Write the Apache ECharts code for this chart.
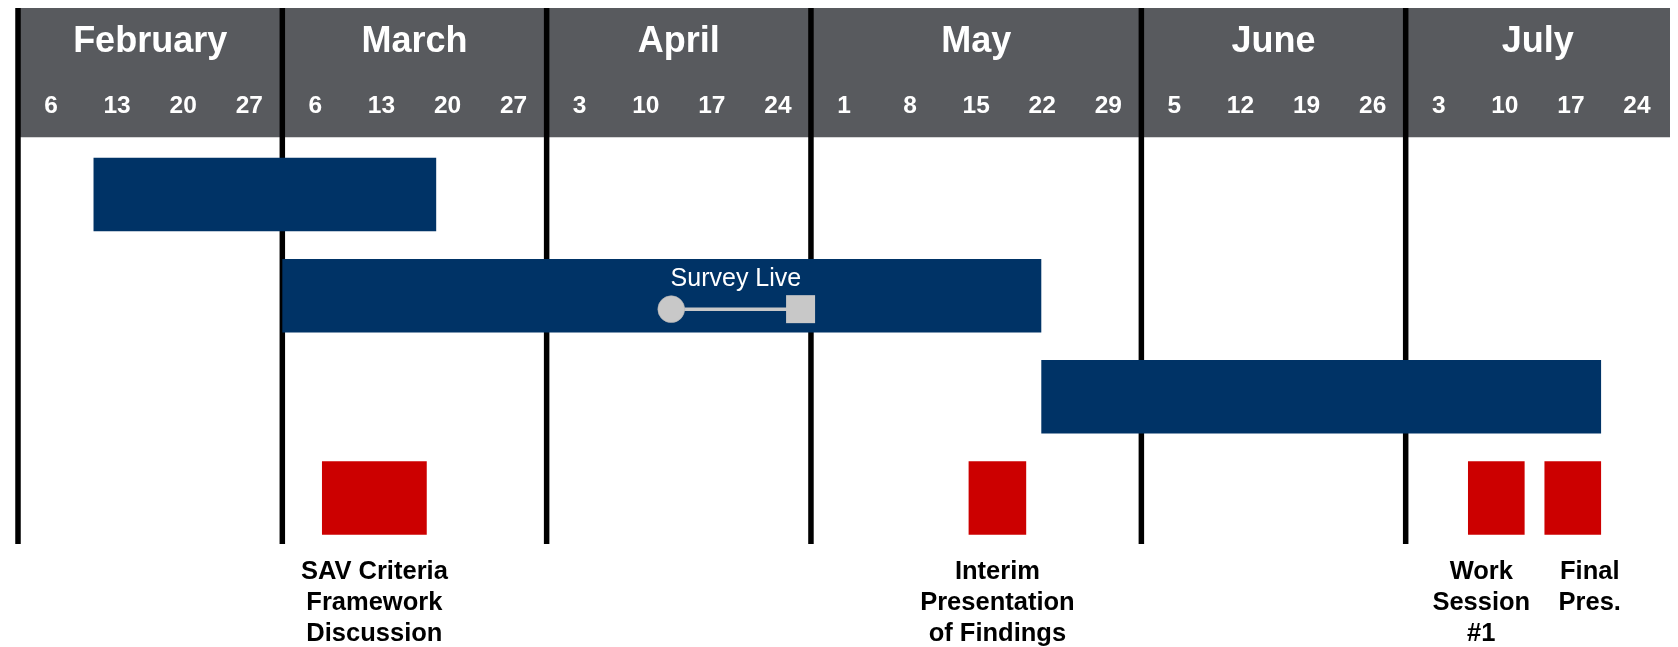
<!DOCTYPE html>
<html>
<head>
<meta charset="utf-8">
<script src="https://cdn.jsdelivr.net/npm/echarts@6/dist/echarts.min.js"></script>
<style>
html,body{margin:0;padding:0;background:#ffffff;}
#chart{width:1678px;height:647px;}
</style>
</head>
<body>
<div id="chart"></div>
<script>
// ---------- data ----------
const months = ['February', 'March', 'April', 'May', 'June', 'July'];
const monthWeeks = [4, 4, 4, 5, 4, 4];
const weekLabels = ['6', '13', '20', '27', '6', '13', '20', '27', '3', '10', '17', '24',
                    '1', '8', '15', '22', '29', '5', '12', '19', '26', '3', '10', '17', '24'];
const rows = ['Row 1', 'Row 2', 'Row 3', 'Milestones'];
// task bars, in days from the start of the timeline
const barRows = [0, 1, 2];
const barStarts = [8, 28, 108.4];
const barEnds = [44.3, 108.4, 167.7];
// survey live marker
const surveyRow = 1;
const surveyStart = 69.2;
const surveyEnd = 82.9;
const surveyLabel = 'Survey Live';
// milestones (red boxes)
const milestoneStarts = [32.2, 100.7, 153.6, 161.7];
const milestoneEnds = [43.3, 106.8, 159.6, 167.7];
const milestoneLabels = ['SAV Criteria\nFramework\nDiscussion', 'Interim\nPresentation\nof Findings', 'Work\nSession\n#1', 'Final\nPres.'];

// ---------- layout / style constants ----------
const FONT = "'Liberation Sans', Arial, Helvetica, sans-serif";
const HEADER_GRAY = '#585a5e';
const NAVY = '#003366';
const RED = '#cc0000';
const MARK_GRAY = '#c8c8c8';
const LINE_BOTTOM = 544;
const milestoneLabelDx = [0, 0, -15, 17];

const totalDays = weekLabels.length * 7;
const monthStarts = [];
const monthEnds = [];
let acc = 0;
monthWeeks.forEach(function (w) { monthStarts.push(acc * 7); acc += w; monthEnds.push(acc * 7); });

const chart = echarts.init(document.getElementById('chart'), null, {renderer: 'canvas'});

const option = {
  backgroundColor: '#ffffff',
  animation: false,
  grid: [
    {left: 18, right: 8, top: 8, height: 129.3, show: true, backgroundColor: HEADER_GRAY, borderWidth: 0},
    {left: 18, right: 8, top: 143.9, height: 404.7, show: false}
  ],
  xAxis: [
    {type: 'value', gridIndex: 0, min: 0, max: totalDays, show: false},
    {type: 'value', gridIndex: 1, min: 0, max: totalDays, show: false}
  ],
  yAxis: [
    {type: 'value', gridIndex: 0, min: 0, max: 1, show: false},
    {type: 'category', gridIndex: 1, data: rows, inverse: true, show: false}
  ],
  series: [
    // month names
    {
      type: 'custom', xAxisIndex: 0, yAxisIndex: 0, z: 5, silent: true,
      data: months.map(function (m, i) { return [monthStarts[i], monthEnds[i], m]; }),
      renderItem: function (params, api) {
        const cs = params.coordSys;
        const x1 = api.coord([api.value(0), 0])[0];
        const x2 = api.coord([api.value(1), 0])[0];
        return {
          type: 'text',
          style: {
            text: months[params.dataIndex], x: (x1 + x2) / 2, y: cs.y + 34.5,
            fill: '#ffffff', font: 'bold 36px ' + FONT,
            align: 'center', verticalAlign: 'middle', textAlign: 'center', textVerticalAlign: 'middle'
          }
        };
      }
    },
    // week day numbers
    {
      type: 'custom', xAxisIndex: 0, yAxisIndex: 0, z: 5, silent: true,
      data: weekLabels.map(function (w, i) { return [i * 7 + 3.5, w]; }),
      renderItem: function (params, api) {
        const cs = params.coordSys;
        const x = api.coord([api.value(0), 0])[0];
        return {
          type: 'text',
          style: {
            text: weekLabels[params.dataIndex], x: x, y: cs.y + 98,
            fill: '#ffffff', font: 'bold 24.5px ' + FONT,
            align: 'center', verticalAlign: 'middle', textAlign: 'center', textVerticalAlign: 'middle'
          }
        };
      }
    },
    // month separator lines
    {
      type: 'custom', xAxisIndex: 0, yAxisIndex: 0, z: 2, silent: true,
      data: monthStarts.map(function (d) { return [d]; }),
      renderItem: function (params, api) {
        const cs = params.coordSys;
        const x = api.coord([api.value(0), 0])[0];
        return {
          type: 'rect',
          shape: {x: x - 2.75, y: cs.y, width: 5.5, height: LINE_BOTTOM - cs.y},
          style: {fill: '#000000'}
        };
      }
    },
    // task bars
    {
      type: 'custom', xAxisIndex: 1, yAxisIndex: 1, z: 3, silent: true,
      data: barStarts.map(function (s, i) { return [s, barEnds[i], barRows[i]]; }),
      renderItem: function (params, api) {
        const p1 = api.coord([api.value(0), api.value(2)]);
        const p2 = api.coord([api.value(1), api.value(2)]);
        const h = api.size([0, 1])[1] * 0.727;
        return {
          type: 'rect',
          shape: {x: p1[0], y: p1[1] - h / 2, width: p2[0] - p1[0], height: h},
          style: {fill: NAVY}
        };
      }
    },
    // survey live marker
    {
      type: 'custom', xAxisIndex: 1, yAxisIndex: 1, z: 4, silent: true,
      data: [[surveyStart, surveyEnd, surveyRow]],
      renderItem: function (params, api) {
        const p1 = api.coord([api.value(0), api.value(2)]);
        const p2 = api.coord([api.value(1), api.value(2)]);
        const my = p1[1] + 13.5;
        return {
          type: 'group',
          children: [
            {type: 'line', shape: {x1: p1[0], y1: my, x2: p2[0], y2: my}, style: {stroke: MARK_GRAY, lineWidth: 3.5}},
            {type: 'circle', shape: {cx: p1[0], cy: my, r: 13.4}, style: {fill: MARK_GRAY, stroke: '#b4b4b4', lineWidth: 0.6}},
            {type: 'rect', shape: {x: p2[0] - 14.5, y: my - 14, width: 29, height: 28}, style: {fill: MARK_GRAY}},
            {type: 'text', style: {
              text: surveyLabel, x: (p1[0] + p2[0]) / 2, y: p1[1] - 16.3,
              fill: '#ffffff', font: '25px ' + FONT,
              align: 'center', verticalAlign: 'middle', textAlign: 'center', textVerticalAlign: 'middle'
            }}
          ]
        };
      }
    },
    // milestones
    {
      type: 'custom', xAxisIndex: 1, yAxisIndex: 1, z: 3, silent: true,
      data: milestoneStarts.map(function (s, i) { return [s, milestoneEnds[i], 3]; }),
      renderItem: function (params, api) {
        const i = params.dataIndex;
        const p1 = api.coord([api.value(0), api.value(2)]);
        const p2 = api.coord([api.value(1), api.value(2)]);
        const h = api.size([0, 1])[1] * 0.727;
        return {
          type: 'group',
          children: [
            {type: 'rect', shape: {x: p1[0], y: p1[1] - h / 2, width: p2[0] - p1[0], height: h}, style: {fill: RED}},
            {type: 'text', style: {
              text: milestoneLabels[i], x: (p1[0] + p2[0]) / 2 + milestoneLabelDx[i], y: p1[1] + 58.5,
              fill: '#000000', font: 'bold 25.5px ' + FONT, lineHeight: 31,
              align: 'center', verticalAlign: 'top', textAlign: 'center', textVerticalAlign: 'top'
            }}
          ]
        };
      }
    }
  ]
};
chart.setOption(option);
</script>
</body>
</html>
